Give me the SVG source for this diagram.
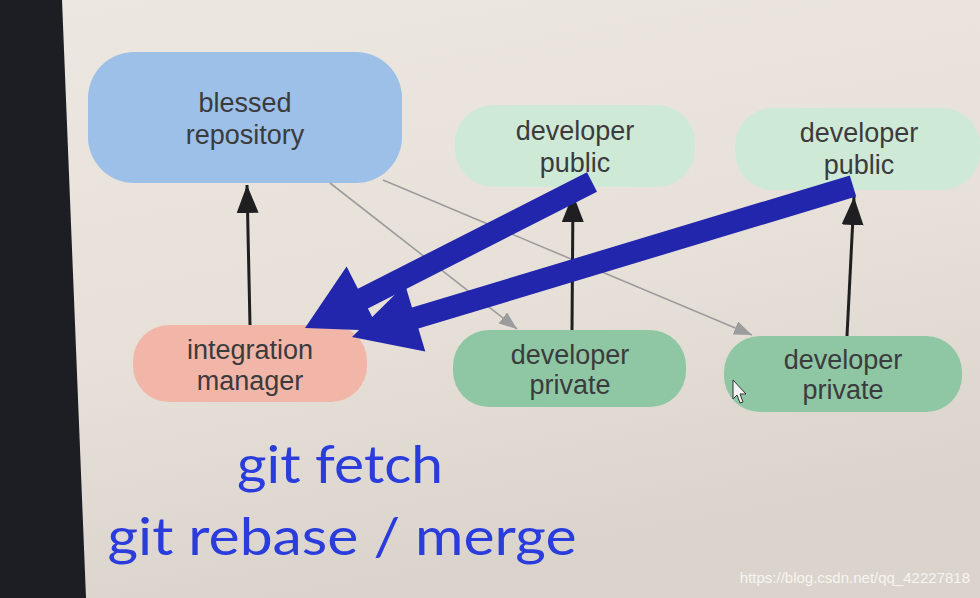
<svg xmlns="http://www.w3.org/2000/svg" width="980" height="598" viewBox="0 0 980 598">
  <defs>
    <linearGradient id="bg" x1="0" y1="0" x2="0.3" y2="1">
      <stop offset="0" stop-color="#ece7e0"/>
      <stop offset="0.6" stop-color="#e6e0d8"/>
      <stop offset="1" stop-color="#dad4cc"/>
    </linearGradient>
    <marker id="blk" markerUnits="userSpaceOnUse" markerWidth="28" markerHeight="22" refX="28" refY="11" orient="auto">
      <path d="M0,0 L28,11 L0,22 z" fill="#1f1f22"/>
    </marker>
    <marker id="gry" markerUnits="userSpaceOnUse" markerWidth="18" markerHeight="14" refX="18" refY="7" orient="auto">
      <path d="M0,0 L18,7 L0,14 z" fill="#9c9c9c"/>
    </marker>
    <style>
      .lbl { font-family: "Liberation Sans", Arial, sans-serif; font-size: 27px; fill: #3b3b3d; text-anchor: middle; }
      .cmd { font-family: "Lato", "Open Sans", sans-serif; font-size: 52px; fill: #2a3ddc; text-anchor: middle; }
      .up { stroke: #1f1f22; stroke-width: 3; fill: none; marker-end: url(#blk); }
      .thin { stroke: #9c9c9c; stroke-width: 1.6; fill: none; marker-end: url(#gry); }
      .big { fill: #2226ad; }
    </style>
  </defs>

  <rect width="980" height="598" fill="url(#bg)"/>
  <polygon points="0,0 62,0 86,598 0,598" fill="#1d1e23"/>

  <g id="blessed-repository">
    <rect x="88" y="52" width="314" height="131" rx="46" fill="#9cc0e8"/>
    <text class="lbl" x="245" y="112">blessed</text>
    <text class="lbl" x="245" y="144">repository</text>
  </g>
  <g id="developer-public-1">
    <rect x="455" y="105" width="240" height="82" rx="38" fill="#cfe9d7"/>
    <text class="lbl" x="575" y="140">developer</text>
    <text class="lbl" x="575" y="172">public</text>
  </g>
  <g id="developer-public-2">
    <rect x="735" y="108" width="245" height="82" rx="38" fill="#cfe9d7"/>
    <text class="lbl" x="859" y="142">developer</text>
    <text class="lbl" x="859" y="174">public</text>
  </g>
  <g id="integration-manager">
    <rect x="133" y="325" width="234" height="77" rx="36" fill="#f1b6a8"/>
    <text class="lbl" x="250" y="359">integration</text>
    <text class="lbl" x="250" y="390">manager</text>
  </g>
  <g id="developer-private-1">
    <rect x="453" y="330" width="233" height="77" rx="36" fill="#8fc6a3"/>
    <text class="lbl" x="570" y="364">developer</text>
    <text class="lbl" x="570" y="394">private</text>
  </g>
  <g id="developer-private-2">
    <rect x="724" y="336" width="238" height="76" rx="36" fill="#8fc6a3"/>
    <text class="lbl" x="843" y="369">developer</text>
    <text class="lbl" x="843" y="399">private</text>
  </g>

  <g id="connectors">
    <line class="thin" x1="330" y1="183" x2="517" y2="329"/>
    <line class="thin" x1="383" y1="180" x2="752" y2="335"/>
    <line class="up" x1="250" y1="325" x2="247" y2="185"/>
    <line class="up" x1="572" y1="330" x2="573" y2="194"/>
    <line class="up" x1="847" y1="336" x2="854" y2="197"/>
    <polygon class="big" points="587.0,172.2 357.9,288.8 346.6,266.5 305,328 379.2,330.7 367.9,308.4 597.0,191.8"/>
    <polygon class="big" points="849.8,175.5 412.0,307.5 405.1,284.5 352,337 425.3,351.5 418.4,328.5 856.2,196.5"/>
  </g>

  <text class="cmd" x="340" y="483" textLength="206" lengthAdjust="spacingAndGlyphs">git fetch</text>
  <text class="cmd" x="342" y="555" textLength="469" lengthAdjust="spacingAndGlyphs">git rebase / merge</text>

  <path d="M733,380 L733,399 L737,395 L740,403 L743,402 L740,394 L746,394 Z" fill="#f4f4f4" stroke="#333" stroke-width="1"/>

  <text x="970" y="583" font-family="Liberation Sans, Arial, sans-serif" font-size="15" fill="#f7f5f1" text-anchor="end">https://blog.csdn.net/qq_42227818</text>
</svg>
